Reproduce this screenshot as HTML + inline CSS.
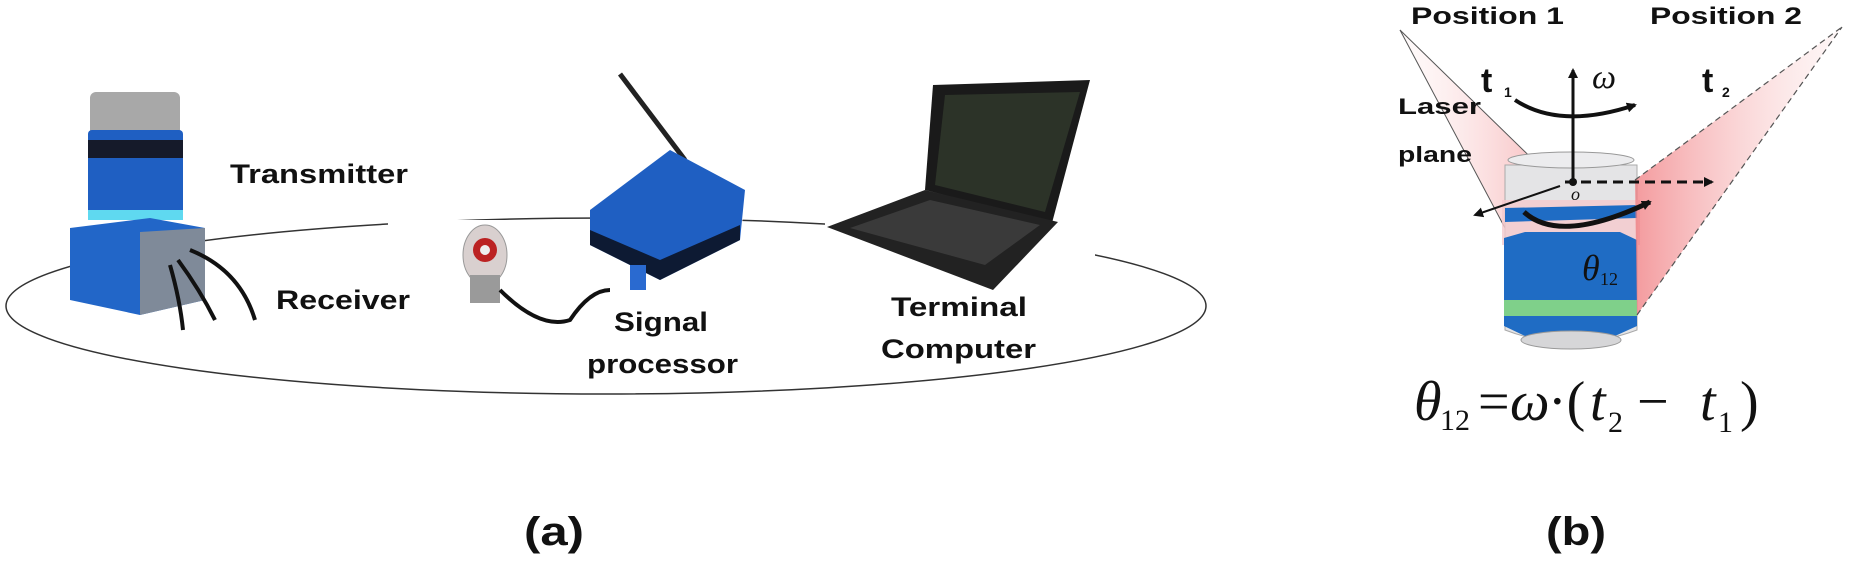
<!DOCTYPE html>
<html><head><meta charset="utf-8"><style>
html,body{margin:0;padding:0;background:#fff;}
svg{display:block;}
.lb{font-family:"Liberation Sans",sans-serif;font-weight:bold;fill:#111;}
.sr{font-family:"Liberation Serif",serif;font-style:italic;fill:#111;}
</style></head><body>
<svg width="1851" height="566" viewBox="0 0 1851 566" xmlns="http://www.w3.org/2000/svg">
<defs>
<marker id="ah" markerWidth="10" markerHeight="10" refX="8" refY="5" orient="auto" markerUnits="userSpaceOnUse"><path d="M0,0 L10,5 L0,10 z" fill="#111"/></marker>
<linearGradient id="pk" x1="0" x2="1"><stop offset="0" stop-color="#f07c80" stop-opacity="0.9"/><stop offset="1" stop-color="#fbe0e0" stop-opacity="0.3"/></linearGradient>
<linearGradient id="pk2" x1="1" x2="0"><stop offset="0" stop-color="#f07c80" stop-opacity="0.8"/><stop offset="1" stop-color="#fbe0e0" stop-opacity="0.2"/></linearGradient>
</defs>
<!-- ellipse -->
<ellipse cx="606" cy="306" rx="600" ry="88" fill="none" stroke="#333" stroke-width="1.5"/>
<!-- transmitter/receiver device -->
<rect x="60" y="70" width="200" height="150" fill="#fff"/>
<rect x="195" y="210" width="90" height="20" fill="#fff"/>
<rect x="90" y="92" width="90" height="45" fill="#a8a8a8" rx="6"/>
<rect x="88" y="130" width="95" height="90" fill="#1f5fc2" rx="4"/>
<rect x="88" y="140" width="95" height="18" fill="#151a2a"/>
<rect x="88" y="210" width="95" height="10" fill="#5fd9f0"/>
<polygon points="70,228 150,218 205,228 205,300 140,315 70,300" fill="#2266c8"/>
<polygon points="140,232 205,228 205,300 140,315" fill="#7f8a99"/>
<path d="M178,260 Q200,290 215,320 M170,265 Q180,300 183,330 M190,250 Q240,270 255,320" stroke="#111" stroke-width="4" fill="none"/>
<!-- sensor -->
<rect x="388" y="220" width="150" height="62" fill="#fff"/>
<ellipse cx="485" cy="255" rx="22" ry="30" fill="#d9d0cf" stroke="#999"/>
<circle cx="485" cy="250" r="12" fill="#b22"/>
<circle cx="485" cy="250" r="5" fill="#eee"/>
<rect x="470" y="275" width="30" height="28" fill="#9a9a9a"/>
<path d="M500,290 Q540,330 570,320 Q590,290 610,290" stroke="#111" stroke-width="4" fill="none"/>
<!-- signal processor -->
<line x1="620" y1="74" x2="685" y2="160" stroke="#222" stroke-width="5"/>
<polygon points="595,205 680,160 745,205 735,265 660,275 590,240" fill="#fff"/>
<polygon points="590,210 670,150 745,190 740,240 660,280 590,245" fill="#1f5fc2"/>
<polygon points="590,230 660,260 740,225 740,240 660,280 590,245" fill="#0d1a33"/>
<rect x="630" y="265" width="16" height="25" fill="#2a6ad0"/>
<!-- laptop -->
<rect x="825" y="78" width="270" height="215" fill="#fff"/>
<polygon points="933,85 1090,80 1052,223 925,190" fill="#1a1a1a"/>
<polygon points="945,95 1080,92 1045,212 935,185" fill="#2c3328"/>
<polygon points="827,227 925,190 1058,222 993,290" fill="#222"/>
<polygon points="850,228 930,200 1040,225 985,265" fill="#3a3a3a"/>
<!-- labels -->
<text class="lb" x="230" y="183" font-size="27" textLength="178" lengthAdjust="spacingAndGlyphs">Transmitter</text>
<text class="lb" x="276" y="309" font-size="27" textLength="134" lengthAdjust="spacingAndGlyphs">Receiver</text>
<text class="lb" x="614" y="331" font-size="27" textLength="94" lengthAdjust="spacingAndGlyphs">Signal</text>
<text class="lb" x="587" y="373" font-size="27" textLength="151" lengthAdjust="spacingAndGlyphs">processor</text>
<text class="lb" x="891" y="316" font-size="27" textLength="136" lengthAdjust="spacingAndGlyphs">Terminal</text>
<text class="lb" x="881" y="358" font-size="27" textLength="155" lengthAdjust="spacingAndGlyphs">Computer</text>
<text class="lb" x="524" y="545" font-size="40" textLength="60" lengthAdjust="spacingAndGlyphs">(a)</text>
<text class="lb" x="1546" y="545" font-size="40" textLength="60" lengthAdjust="spacingAndGlyphs">(b)</text>
<!-- (b) diagram -->
<text class="lb" x="1411" y="24" font-size="24" textLength="153" lengthAdjust="spacingAndGlyphs">Position 1</text>
<text class="lb" x="1650" y="24" font-size="24" textLength="152" lengthAdjust="spacingAndGlyphs">Position 2</text>
<!-- left wedge -->
<polygon points="1400,30 1556,182 1558,328" fill="url(#pk2)" opacity="0.7"/>
<line x1="1400" y1="30" x2="1556" y2="182" stroke="#555" stroke-width="1"/>
<line x1="1400" y1="30" x2="1558" y2="328" stroke="#555" stroke-width="1"/>
<!-- cylinder -->
<path d="M1505,165 L1505,330 Q1570,355 1637,330 L1637,165 Z" fill="#e4e4e6" stroke="#aaa"/>
<ellipse cx="1571" cy="160" rx="63" ry="8" fill="#ececee" stroke="#999"/>
<polygon points="1502,200 1640,200 1640,245 1502,245" fill="#f5c9cd" opacity="0.8"/>
<polygon points="1505,208 1637,205 1637,218 1505,222" fill="#1f6cc4"/>
<polygon points="1504,238 1525,232 1620,232 1637,240 1637,312 1615,322 1525,322 1504,312" fill="#1f6cc4"/>
<polygon points="1504,300 1637,300 1637,316 1504,316" fill="#7fd08a"/>
<polygon points="1504,316 1637,316 1637,326 1615,336 1525,336 1504,326" fill="#1f6cc4"/>
<ellipse cx="1571" cy="340" rx="50" ry="9" fill="#d6d6d8" stroke="#999"/>
<!-- right wedge -->
<polygon points="1635,180 1842,27 1637,315" fill="url(#pk)" opacity="0.85"/>
<line x1="1635" y1="180" x2="1842" y2="27" stroke="#555" stroke-width="1.2" stroke-dasharray="6,4"/>
<line x1="1637" y1="315" x2="1842" y2="27" stroke="#555" stroke-width="1.2" stroke-dasharray="6,4"/>
<!-- axes -->
<line x1="1573" y1="182" x2="1573" y2="70" stroke="#111" stroke-width="3" marker-end="url(#ah)"/>
<line x1="1565" y1="182" x2="1712" y2="182" stroke="#111" stroke-width="3" stroke-dasharray="10,6" marker-end="url(#ah)"/>
<line x1="1560" y1="186" x2="1475" y2="215" stroke="#111" stroke-width="2" marker-end="url(#ah)"/>
<circle cx="1573" cy="182" r="4" fill="#111"/>
<path d="M1515,100 Q1560,130 1635,105" stroke="#111" stroke-width="4" fill="none" marker-end="url(#ah)"/>
<path d="M1524,212 Q1560,245 1650,202" stroke="#111" stroke-width="5" fill="none" marker-end="url(#ah)"/>
<text class="sr" x="1592" y="88" font-size="34">ω</text>
<text class="lb" x="1481" y="92" font-size="34">t</text><text class="lb" x="1504" y="97" font-size="14">1</text>
<text class="lb" x="1702" y="92" font-size="34">t</text><text class="lb" x="1722" y="97" font-size="14">2</text>
<text class="sr" x="1571" y="200" font-size="18">o</text>
<text class="lb" x="1398" y="114" font-size="22" textLength="83" lengthAdjust="spacingAndGlyphs">Laser</text>
<text class="lb" x="1398" y="162" font-size="22" textLength="74" lengthAdjust="spacingAndGlyphs">plane</text>
<text class="sr" x="1582" y="280" font-size="36">θ</text><text class="sr" x="1600" y="285" font-size="18" style="font-style:normal">12</text>
<text class="sr" x="1414" y="420" font-size="56">θ</text>
<text class="sr" x="1440" y="430" font-size="30" style="font-style:normal">12</text>
<text class="sr" x="1478" y="420" font-size="56" style="font-style:normal">=</text>
<text class="sr" x="1510" y="420" font-size="56">ω</text>
<text class="sr" x="1548" y="420" font-size="56" style="font-style:normal">·(</text>
<text class="sr" x="1590" y="420" font-size="56">t</text>
<text class="sr" x="1608" y="432" font-size="30" style="font-style:normal">2</text>
<text class="sr" x="1637" y="420" font-size="56" style="font-style:normal">−</text>
<text class="sr" x="1700" y="420" font-size="56">t</text>
<text class="sr" x="1718" y="432" font-size="30" style="font-style:normal">1</text>
<text class="sr" x="1740" y="420" font-size="56" style="font-style:normal">)</text>
</svg>
</body></html>
